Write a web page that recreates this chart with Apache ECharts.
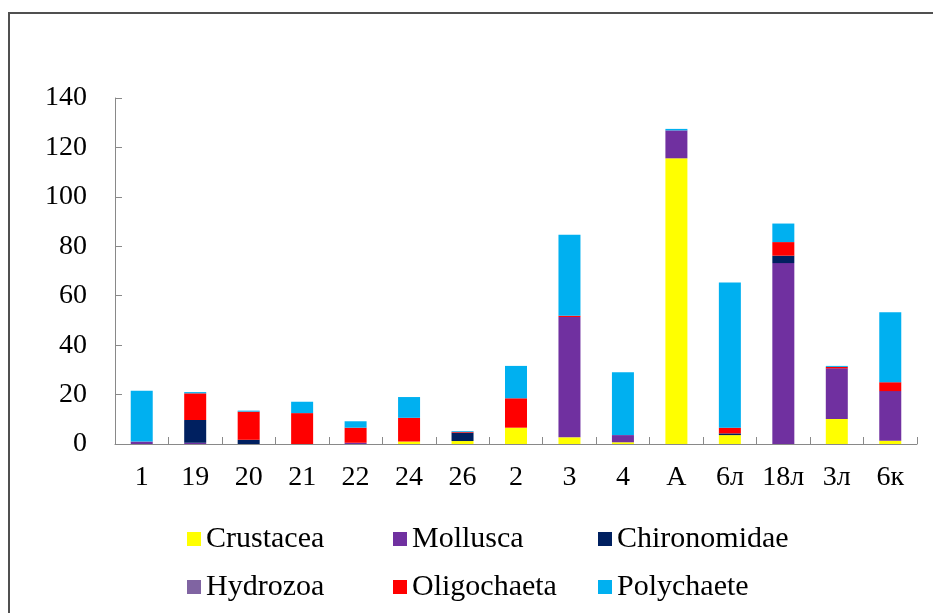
<!DOCTYPE html>
<html>
<head>
<meta charset="utf-8">
<script src="https://cdn.jsdelivr.net/npm/echarts@6/dist/echarts.min.js"></script>
<style>html,body{margin:0;padding:0;background:#fff}#c{width:933px;height:613px}</style>
</head>
<body>
<div id="c"></div>
<script>
const categories = ['1','19','20','21','22','24','26','2','3','4','A','6л','18л','3л','6к'];
const crustacea    = [0,   0,   0,   0,   0,   1.0, 1.2, 6.6, 2.7, 0.7, 115.6, 3.6, 0,    10.1, 1.3];
const mollusca     = [1.0, 0.5, 0,   0,   0.5, 0,   0,   0,   48.7, 2.9, 11.3, 0,   73.2, 20.5, 20.1];
const chironomidae = [0,   9.2, 1.7, 0,   0,   0,   3.4, 0,   0,   0,   0,    0.7, 3.0,  0,    0];
const hydrozoa     = [0,   0,   0,   0,   0,   0,   0,   0,   0,   0,   0,    0,   0,    0,    0];
const oligochaeta  = [0,   10.8,11.4,12.5,6.1, 9.6, 0.3, 11.9,0.5, 0,   0,    2.3, 5.5,  0.6,  3.6];
const polychaete   = [20.5,0.5, 0.4, 4.6, 2.6, 8.4, 0.3, 13.1,32.8,25.4,0.6,  58.7,7.5,  0.4,  28.3];
const yTicks = [0, 20, 40, 60, 80, 100, 120, 140];

const seriesDefs = [
  ['Crustacea', crustacea, '#FFFF00'],
  ['Mollusca', mollusca, '#7030A0'],
  ['Chironomidae', chironomidae, '#002060'],
  ['Hydrozoa', hydrozoa, '#8064A2'],
  ['Oligochaeta', oligochaeta, '#FF0000'],
  ['Polychaete', polychaete, '#00B0F0']
];
const legendPos = [[187,524],[393,524],[598,524],[187,572],[393,572],[598,572]];
const font = '"Liberation Serif","Times New Roman",serif';

const chart = echarts.init(document.getElementById('c'), null, {renderer:'canvas'});
chart.setOption({
  animation:false,
  backgroundColor:'#fff',
  graphic:[{type:'rect', shape:{x:9,y:13,width:940,height:620}, style:{fill:'none', stroke:'#505050', lineWidth:2}, z:-1}],
  grid:{left:115, right:16, top:98, bottom:169, containLabel:false},
  legend: seriesDefs.map((s,i)=>({
    data:[s[0]], left:legendPos[i][0], top:legendPos[i][1], padding:0,
    itemWidth:14, itemHeight:14, itemGap:0, itemTextGap:8, icon:'rect',
    textStyle:{fontFamily:font, fontSize:30, color:'#000'}
  })),
  xAxis:{
    type:'category', data:categories,
    axisLine:{lineStyle:{color:'#898989', width:1}},
    axisTick:{show:true, inside:true, length:7, alignWithLabel:false, lineStyle:{color:'#898989'}},
    axisLabel:{fontFamily:font, fontSize:28, color:'#000', margin:20, interval:0}
  },
  yAxis:{
    type:'value', min:0, max:140, interval:20,
    axisLine:{show:true, lineStyle:{color:'#898989', width:1}},
    axisTick:{show:true, inside:true, length:7, lineStyle:{color:'#898989'}},
    splitLine:{show:false},
    axisLabel:{fontFamily:font, fontSize:28, color:'#000', margin:28,
      formatter:v=> yTicks.includes(v) ? String(v) : ''}
  },
  series: seriesDefs.map(s=>({
    name:s[0], type:'bar', stack:'total', data:s[1], barWidth:22,
    itemStyle:{color:s[2]}
  }))
});
</script>
</body>
</html>
